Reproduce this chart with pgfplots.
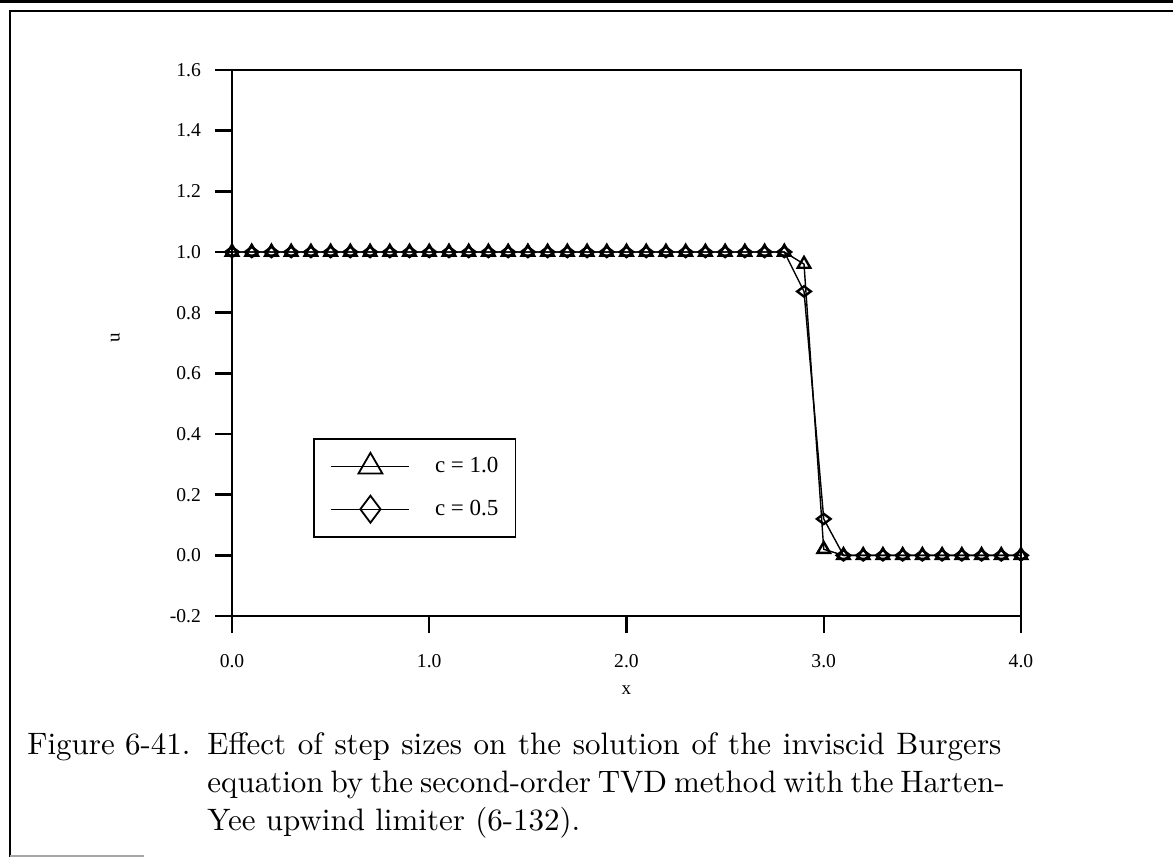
\documentclass[border=0pt]{standalone}
\usepackage{fontspec}
\usepackage{pgfplots}
\usepackage{pgfplotstable}
\pgfplotsset{compat=1.18}
\newfontfamily\timesf{Liberation Serif}
\newfontfamily\capfont{lmroman10-regular.otf}

% u(x) for the two step sizes
\pgfplotstableread{
x    u
0.0  1.0
0.1  1.0
0.2  1.0
0.3  1.0
0.4  1.0
0.5  1.0
0.6  1.0
0.7  1.0
0.8  1.0
0.9  1.0
1.0  1.0
1.1  1.0
1.2  1.0
1.3  1.0
1.4  1.0
1.5  1.0
1.6  1.0
1.7  1.0
1.8  1.0
1.9  1.0
2.0  1.0
2.1  1.0
2.2  1.0
2.3  1.0
2.4  1.0
2.5  1.0
2.6  1.0
2.7  1.0
2.8  1.0
2.9  0.96
3.0  0.02
3.1  0.0
3.2  0.0
3.3  0.0
3.4  0.0
3.5  0.0
3.6  0.0
3.7  0.0
3.8  0.0
3.9  0.0
4.0  0.0
}\cone

\pgfplotstableread{
x    u
0.0  1.0
0.1  1.0
0.2  1.0
0.3  1.0
0.4  1.0
0.5  1.0
0.6  1.0
0.7  1.0
0.8  1.0
0.9  1.0
1.0  1.0
1.1  1.0
1.2  1.0
1.3  1.0
1.4  1.0
1.5  1.0
1.6  1.0
1.7  1.0
1.8  1.0
1.9  1.0
2.0  1.0
2.1  1.0
2.2  1.0
2.3  1.0
2.4  1.0
2.5  1.0
2.6  1.0
2.7  1.0
2.8  1.0
2.9  0.87
3.0  0.12
3.1  0.0
3.2  0.0
3.3  0.0
3.4  0.0
3.5  0.0
3.6  0.0
3.7  0.0
3.8  0.0
3.9  0.0
4.0  0.0
}\chalf

\begin{document}
\begin{tikzpicture}
\path[use as bounding box] (0,0) rectangle (586.5pt,428.5pt);
% page frame
\draw[line width=1.2pt] (0,427.8pt) -- (586.5pt,427.8pt);
\draw[line width=1.2pt] (4.5pt,423pt) -- (586.5pt,423pt);
\draw[line width=1.1pt] (5pt,423pt) -- (5pt,0);
\draw[black!35, line width=0.8pt] (5pt,0.6pt) -- (72pt,0.6pt);

\begin{axis}[
  at={(116pt,120.5pt)}, anchor=south west,
  scale only axis, width=394.5pt, height=273pt,
  xmin=0, xmax=4, ymin=-0.2, ymax=1.6,
  xtick={0,1,2,3,4}, ytick={-0.2,0,0.2,0.4,0.6,0.8,1.0,1.2,1.4,1.6},
  xtick pos=bottom, ytick pos=left,
  tick align=outside, major tick length=8.5pt,
  axis line style={line width=1.2pt}, tick style={line width=1.2pt, black},
  /pgf/number format/assume math mode=true,
  /pgf/number format/fixed,
  /pgf/number format/fixed zerofill,
  /pgf/number format/precision=1,
  ticklabel style={font=\timesf\fontsize{9.8}{11}\selectfont},
  xticklabel style={yshift=-7pt},
  yticklabel style={xshift=-3.5pt},
  xlabel={x}, ylabel={u},
  label style={font=\timesf\fontsize{9.5}{11}\selectfont},
  xlabel style={at={(rel axis cs:0.5,-0.1355)}, anchor=center},
  ylabel style={at={(rel axis cs:-0.148,0.509)}, anchor=center},
  clip=false,
  legend cell align=left,
  legend style={at={(rel axis cs:0.1027,0.326)}, anchor=north west,
    draw=black, line width=0.8pt, inner xsep=8.5pt, inner ysep=7pt,
    row sep=10pt, column sep=12.5pt,
    nodes={inner sep=0pt},
    font=\timesf\fontsize{11.5}{13}\selectfont},
]
\addplot[black, line width=0.7pt, mark=triangle, mark size=3.6pt,
  mark options={solid, line width=1.2pt},
  legend image code/.code={\draw[black, line width=0.6pt, mark repeat=2, mark phase=2,
    mark=triangle, mark size=6.9pt, mark options={solid, line width=0.9pt}]
    plot coordinates {(0pt,0pt) (19.5pt,0pt) (39pt,0pt)};}]
  table[x=x, y=u] {\cone};
\addlegendentry{c = 1.0}
\addplot[black, line width=0.7pt, mark=diamond, mark size=3.4pt,
  mark options={solid, line width=1.2pt, rotate=90},
  legend image code/.code={\draw[black, line width=0.6pt, mark repeat=2, mark phase=2,
    mark=diamond, mark size=6.75pt, mark options={solid, line width=0.9pt}]
    plot coordinates {(0pt,0pt) (19.5pt,0pt) (39pt,0pt)};}]
  table[x=x, y=u] {\chalf};
\addlegendentry{c = 0.5}
\end{axis}

% caption, justified like the original
\begin{scope}[every node/.style={anchor=base west, inner sep=0pt, font=\capfont\fontsize{15.5}{17}\selectfont}]
\node[anchor=base east] at (95.5pt,51pt) {Figure 6-41.};
\node at (103.5pt,51pt) {\makebox[397pt][s]{Effect of step sizes on the solution of the inviscid Burgers}};
\node at (103.5pt,32pt) {\makebox[397pt][s]{equation by the second-order TVD method with the Harten-}};
\node at (103.5pt,13pt) {Yee upwind limiter (6-132).};
\end{scope}
\end{tikzpicture}
\end{document}
